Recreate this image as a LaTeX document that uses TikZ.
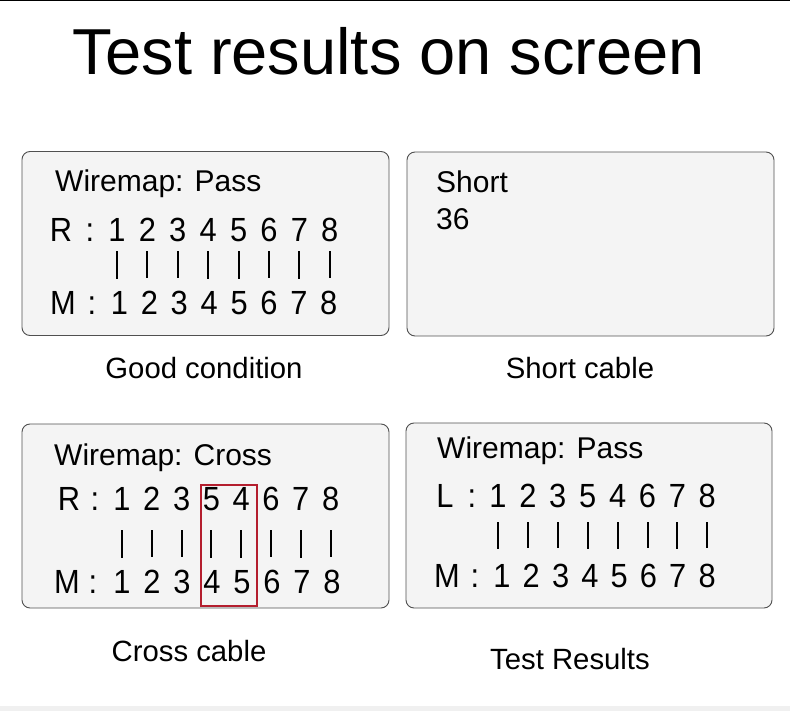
\documentclass[tikz,border=0pt]{standalone}
\usepackage{fontspec}
\setmainfont{Liberation Sans}
\newfontfamily\lcdfont[FakeStretch=0.92]{Liberation Sans}
\usetikzlibrary{positioning}

\definecolor{panel}{HTML}{F4F4F4}
\definecolor{rim}{HTML}{505050}
\definecolor{crossred}{HTML}{B41E2E}

\begin{document}
\begin{tikzpicture}[x=1pt,y=-1pt,
    screen/.style={draw=rim,fill=panel,rounded corners=8pt,line width=0.9pt,
                   minimum width=367pt,minimum height=184pt,inner sep=0pt},
    txt/.style={inner sep=0pt,anchor=base west,font=\fontsize{30}{36}\selectfont},
    pin/.style={inner sep=0pt,anchor=base,text depth=0pt,font=\lcdfont\fontsize{33.5}{40}\selectfont},
    caption/.style={inner sep=0pt,anchor=base,font=\fontsize{29.3}{34}\selectfont},
    wire/.style={line width=2pt},
    frame/.style={draw=crossred,line width=2.8pt}]

\useasboundingbox (0,0) rectangle (790,711);
\fill[black] (0,0) rectangle (790,1.5);
\fill[black!6] (0,706) rectangle (790,711);

\node[inner sep=0pt,anchor=base,font=\fontsize{65}{70}\selectfont] (title) at (389,75) {Test results on screen};

% the four screens
\node[screen] (good)   at (205.5,243.5) {};
\node[screen] (short)  at (590.5,244)   {};
\node[screen] (cross)  at (205.5,516)   {};
\node[screen, minimum width=366pt, minimum height=185pt] (result) at (589,515.5) {};

\node[caption] (goodcap)   at (204,378) {Good condition};
\node[caption] (shortcap)  at (580,378) {Short cable};
\node[caption] (crosscap)  at (189,661) {Cross cable};
\node[caption] (resultcap) at (570,669) {Test Results};

% good condition
\node[txt] (gwire) at (55,192) {Wiremap: Pass};
\node[pin] (gR)  at (61,242) {R};
\node[pin] (gRc) at (90,242) {:};
\node[pin] (gM)  at (63,315) {M};
\node[pin] (gMc) at (92,315) {:};
\foreach \d [count=\i] in {1,2,3,4,5,6,7,8} {
  \node[pin] (gr\i) at ({117+30.4*(\i-1)},242) {\d};
  \node[pin] (gm\i) at ({119.5+29.9*(\i-1)},315) {\d};
}
\foreach \i in {1,...,8}
  \draw[wire, shorten <=9pt, shorten >=13pt] (gr\i.south) -- (gr\i.south |- gm\i.north);

% short cable
\node[txt] (slabel) at (436,193) {Short};
\node[txt] (slen)   at (436,230) {36};

% cross cable
\node[txt] (cwire) at (54,465) {Wiremap: Cross};
\node[pin] (cR)  at (69,510) {R};
\node[pin] (cRc) at (95,510) {:};
\node[pin] (cM)  at (67,593) {M};
\node[pin] (cMc) at (93,593) {:};
\foreach \d [count=\i] in {1,2,3,5,4,6,7,8}
  \node[pin] (cr\i) at ({122+29.8*(\i-1)},510) {\d};
\foreach \d [count=\i] in {1,2,3,4,5,6,7,8}
  \node[pin] (cm\i) at ({122+30*(\i-1)},593) {\d};
\foreach \i in {1,...,8}
  \draw[wire, shorten <=20pt, shorten >=12pt] (cr\i.south) -- (cr\i.south |- cm\i.north);
\draw[frame] (201,485) rectangle (257,606);

% test results
\node[txt] (rwire) at (437,458) {Wiremap: Pass};
\node[pin] (rL)  at (445,507) {L};
\node[pin] (rLc) at (472,507) {:};
\node[pin] (rM)  at (447,587) {M};
\node[pin] (rMc) at (475,587) {:};
\foreach \d [count=\i] in {1,2,3,5,4,6,7,8}
  \node[pin] (rl\i) at ({498+29.9*(\i-1)},507) {\d};
\foreach \d [count=\i] in {1,2,3,4,5,6,7,8}
  \node[pin] (rm\i) at ({502+29.3*(\i-1)},587) {\d};
\foreach \i in {1,...,8}
  \draw[wire, shorten <=15pt, shorten >=15pt] (rl\i.south) -- (rl\i.south |- rm\i.north);

\end{tikzpicture}
\end{document}
